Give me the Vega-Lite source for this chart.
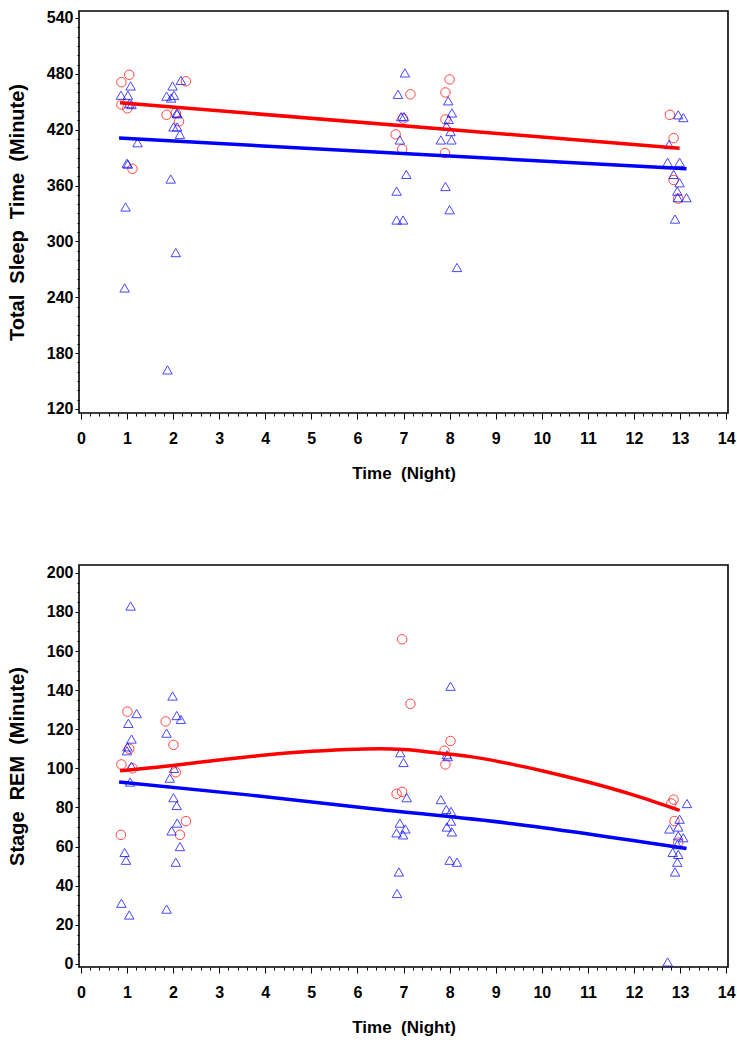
{
  "$schema": "https://vega.github.io/schema/vega-lite/v6.json",
  "padding": {"left": 6, "top": 9, "right": 8, "bottom": 8},
  "spacing": 82,
  "background": "white",
  "config": {
    "font": "Liberation Sans",
    "view": {"stroke": "#000000", "strokeWidth": 1.6},
    "axis": {
      "grid": false,
      "domain": false,
      "tickColor": "#000000",
      "tickWidth": 1,
      "labelColor": "#000000",
      "labelFont": "Liberation Sans",
      "labelFontWeight": "bold",
      "labelFontSize": 16,
      "titleColor": "#000000",
      "titleFont": "Liberation Sans",
      "titleFontWeight": "bold"
    }
  },
  "datasets": {
    "tst_pts": [
      {"night": 0.88, "minutes": 471, "group": "A"},
      {"night": 1.05, "minutes": 479, "group": "A"},
      {"night": 0.88, "minutes": 447, "group": "A"},
      {"night": 1.01, "minutes": 443, "group": "A"},
      {"night": 1.12, "minutes": 378, "group": "A"},
      {"night": 1.86, "minutes": 436, "group": "A"},
      {"night": 2.28, "minutes": 472, "group": "A"},
      {"night": 2.13, "minutes": 429, "group": "A"},
      {"night": 2.06, "minutes": 438, "group": "A"},
      {"night": 7.15, "minutes": 458, "group": "A"},
      {"night": 6.83, "minutes": 415, "group": "A"},
      {"night": 6.97, "minutes": 399, "group": "A"},
      {"night": 6.99, "minutes": 432, "group": "A"},
      {"night": 8.0, "minutes": 474, "group": "A"},
      {"night": 7.91, "minutes": 460, "group": "A"},
      {"night": 7.91, "minutes": 431, "group": "A"},
      {"night": 7.9, "minutes": 395, "group": "A"},
      {"night": 12.78, "minutes": 436, "group": "A"},
      {"night": 12.86, "minutes": 411, "group": "A"},
      {"night": 12.86, "minutes": 366, "group": "A"},
      {"night": 12.96, "minutes": 346, "group": "A"},
      {"night": 0.87, "minutes": 457, "group": "B"},
      {"night": 1.02, "minutes": 457, "group": "B"},
      {"night": 1.08, "minutes": 467, "group": "B"},
      {"night": 1.05, "minutes": 448, "group": "B"},
      {"night": 1.1, "minutes": 447, "group": "B"},
      {"night": 1.23, "minutes": 406, "group": "B"},
      {"night": 1.0, "minutes": 384, "group": "B"},
      {"night": 1.02, "minutes": 383, "group": "B"},
      {"night": 0.97, "minutes": 337, "group": "B"},
      {"night": 0.95, "minutes": 250, "group": "B"},
      {"night": 1.86, "minutes": 456, "group": "B"},
      {"night": 1.99, "minutes": 467, "group": "B"},
      {"night": 2.02, "minutes": 457, "group": "B"},
      {"night": 1.96, "minutes": 454, "group": "B"},
      {"night": 2.17, "minutes": 473, "group": "B"},
      {"night": 2.08, "minutes": 438, "group": "B"},
      {"night": 2.09, "minutes": 437, "group": "B"},
      {"night": 2.01, "minutes": 423, "group": "B"},
      {"night": 2.09, "minutes": 423, "group": "B"},
      {"night": 2.15, "minutes": 415, "group": "B"},
      {"night": 1.95, "minutes": 367, "group": "B"},
      {"night": 2.06, "minutes": 288, "group": "B"},
      {"night": 1.88, "minutes": 162, "group": "B"},
      {"night": 7.03, "minutes": 481, "group": "B"},
      {"night": 6.88, "minutes": 458, "group": "B"},
      {"night": 6.95, "minutes": 434, "group": "B"},
      {"night": 7.01, "minutes": 434, "group": "B"},
      {"night": 6.92, "minutes": 409, "group": "B"},
      {"night": 7.06, "minutes": 372, "group": "B"},
      {"night": 6.85, "minutes": 354, "group": "B"},
      {"night": 6.85, "minutes": 323, "group": "B"},
      {"night": 6.99, "minutes": 323, "group": "B"},
      {"night": 7.97, "minutes": 451, "group": "B"},
      {"night": 8.05, "minutes": 438, "group": "B"},
      {"night": 7.98, "minutes": 431, "group": "B"},
      {"night": 7.93, "minutes": 424, "group": "B"},
      {"night": 8.02, "minutes": 418, "group": "B"},
      {"night": 7.81, "minutes": 409, "group": "B"},
      {"night": 8.04, "minutes": 409, "group": "B"},
      {"night": 7.91, "minutes": 359, "group": "B"},
      {"night": 8.0, "minutes": 334, "group": "B"},
      {"night": 8.16, "minutes": 272, "group": "B"},
      {"night": 12.96, "minutes": 436, "group": "B"},
      {"night": 13.07, "minutes": 433, "group": "B"},
      {"night": 12.76, "minutes": 404, "group": "B"},
      {"night": 12.73, "minutes": 385, "group": "B"},
      {"night": 12.99, "minutes": 385, "group": "B"},
      {"night": 12.86, "minutes": 372, "group": "B"},
      {"night": 12.99, "minutes": 363, "group": "B"},
      {"night": 12.94, "minutes": 354, "group": "B"},
      {"night": 13.14, "minutes": 347, "group": "B"},
      {"night": 12.95, "minutes": 347, "group": "B"},
      {"night": 12.89, "minutes": 324, "group": "B"}
    ],
    "tst_fit": [
      {"night": 0.85, "minutes": 449, "group": "A"},
      {"night": 12.99, "minutes": 400, "group": "A"},
      {"night": 0.83, "minutes": 411, "group": "B"},
      {"night": 13.14, "minutes": 378, "group": "B"}
    ],
    "rem_pts": [
      {"night": 1.01, "minutes": 129, "group": "A"},
      {"night": 1.05, "minutes": 110, "group": "A"},
      {"night": 0.88, "minutes": 102, "group": "A"},
      {"night": 1.12, "minutes": 100, "group": "A"},
      {"night": 0.87, "minutes": 66, "group": "A"},
      {"night": 1.84, "minutes": 124, "group": "A"},
      {"night": 2.01, "minutes": 112, "group": "A"},
      {"night": 2.06, "minutes": 98, "group": "A"},
      {"night": 2.28, "minutes": 73, "group": "A"},
      {"night": 2.15, "minutes": 66, "group": "A"},
      {"night": 6.97, "minutes": 166, "group": "A"},
      {"night": 7.15, "minutes": 133, "group": "A"},
      {"night": 6.85, "minutes": 87, "group": "A"},
      {"night": 6.97, "minutes": 88, "group": "A"},
      {"night": 8.02, "minutes": 114, "group": "A"},
      {"night": 7.89, "minutes": 109, "group": "A"},
      {"night": 7.91, "minutes": 102, "group": "A"},
      {"night": 12.86, "minutes": 84, "group": "A"},
      {"night": 12.81, "minutes": 82, "group": "A"},
      {"night": 12.88, "minutes": 73, "group": "A"},
      {"night": 12.96, "minutes": 62, "group": "A"},
      {"night": 1.08, "minutes": 183, "group": "B"},
      {"night": 1.21, "minutes": 128, "group": "B"},
      {"night": 1.03, "minutes": 123, "group": "B"},
      {"night": 1.1, "minutes": 115, "group": "B"},
      {"night": 1.01, "minutes": 111, "group": "B"},
      {"night": 1.0, "minutes": 109, "group": "B"},
      {"night": 1.1, "minutes": 101, "group": "B"},
      {"night": 1.07, "minutes": 93, "group": "B"},
      {"night": 0.95, "minutes": 57, "group": "B"},
      {"night": 0.98, "minutes": 53, "group": "B"},
      {"night": 0.88, "minutes": 31, "group": "B"},
      {"night": 1.05, "minutes": 25, "group": "B"},
      {"night": 1.99, "minutes": 137, "group": "B"},
      {"night": 2.08, "minutes": 127, "group": "B"},
      {"night": 2.17, "minutes": 125, "group": "B"},
      {"night": 1.86, "minutes": 118, "group": "B"},
      {"night": 2.02, "minutes": 100, "group": "B"},
      {"night": 1.93, "minutes": 95, "group": "B"},
      {"night": 2.01, "minutes": 85, "group": "B"},
      {"night": 2.08, "minutes": 81, "group": "B"},
      {"night": 2.09, "minutes": 72, "group": "B"},
      {"night": 1.97, "minutes": 68, "group": "B"},
      {"night": 2.15, "minutes": 60, "group": "B"},
      {"night": 2.06, "minutes": 52, "group": "B"},
      {"night": 1.86, "minutes": 28, "group": "B"},
      {"night": 6.93, "minutes": 108, "group": "B"},
      {"night": 7.0, "minutes": 103, "group": "B"},
      {"night": 7.07, "minutes": 85, "group": "B"},
      {"night": 6.92, "minutes": 72, "group": "B"},
      {"night": 7.04, "minutes": 69, "group": "B"},
      {"night": 6.85, "minutes": 67, "group": "B"},
      {"night": 6.99, "minutes": 66, "group": "B"},
      {"night": 6.9, "minutes": 47, "group": "B"},
      {"night": 6.86, "minutes": 36, "group": "B"},
      {"night": 8.02, "minutes": 142, "group": "B"},
      {"night": 7.94, "minutes": 107, "group": "B"},
      {"night": 7.96, "minutes": 106, "group": "B"},
      {"night": 7.81, "minutes": 84, "group": "B"},
      {"night": 7.93, "minutes": 79, "group": "B"},
      {"night": 8.03, "minutes": 78, "group": "B"},
      {"night": 8.03, "minutes": 73, "group": "B"},
      {"night": 7.94, "minutes": 70, "group": "B"},
      {"night": 8.05, "minutes": 67.5, "group": "B"},
      {"night": 8.0, "minutes": 53, "group": "B"},
      {"night": 8.16, "minutes": 52, "group": "B"},
      {"night": 13.15, "minutes": 82, "group": "B"},
      {"night": 12.99, "minutes": 74, "group": "B"},
      {"night": 12.77, "minutes": 69, "group": "B"},
      {"night": 12.96, "minutes": 70, "group": "B"},
      {"night": 12.96, "minutes": 65.5, "group": "B"},
      {"night": 13.07, "minutes": 64.5, "group": "B"},
      {"night": 12.94, "minutes": 61, "group": "B"},
      {"night": 12.84, "minutes": 57, "group": "B"},
      {"night": 12.96, "minutes": 56, "group": "B"},
      {"night": 12.94, "minutes": 52, "group": "B"},
      {"night": 12.89, "minutes": 47, "group": "B"},
      {"night": 12.73, "minutes": 1, "group": "B"}
    ],
    "rem_fit": [
      {"night": 0.85, "minutes": 98.8, "group": "A"},
      {"night": 2, "minutes": 101.5, "group": "A"},
      {"night": 3, "minutes": 104.3, "group": "A"},
      {"night": 4, "minutes": 106.8, "group": "A"},
      {"night": 5, "minutes": 108.7, "group": "A"},
      {"night": 6, "minutes": 109.8, "group": "A"},
      {"night": 6.5, "minutes": 110, "group": "A"},
      {"night": 7, "minutes": 109.6, "group": "A"},
      {"night": 7.73, "minutes": 107.9, "group": "A"},
      {"night": 8.45, "minutes": 106, "group": "A"},
      {"night": 9.32, "minutes": 102.3, "group": "A"},
      {"night": 10, "minutes": 98.8, "group": "A"},
      {"night": 11, "minutes": 93, "group": "A"},
      {"night": 12, "minutes": 86.3, "group": "A"},
      {"night": 12.99, "minutes": 78.5, "group": "A"},
      {"night": 0.83, "minutes": 93, "group": "B"},
      {"night": 3.68, "minutes": 86.3, "group": "B"},
      {"night": 6.28, "minutes": 79.5, "group": "B"},
      {"night": 9.32, "minutes": 71.8, "group": "B"},
      {"night": 13.14, "minutes": 59, "group": "B"}
    ]
  },
  "vconcat": [
    {
      "width": 649,
      "height": 402,
      "resolve": {"axis": {"x": "independent", "y": "independent"}},
      "layer": [
        {
          "data": {"name": "tst_pts"},
          "mark": {"type": "point", "filled": false, "strokeWidth": 1, "size": 90, "opacity": 0.72},
          "encoding": {
            "x": {"field": "night", "type": "quantitative",
              "scale": {"domain": [-0.04, 14.04], "nice": false, "zero": false},
              "axis": {"orient": "bottom", "values": [0,1,2,3,4,5,6,7,8,9,10,11,12,13,14], "tickSize": 6, "labelPadding": 11, "title": "Time\u00a0 (Night)", "titleFontSize": 17, "titlePadding": 19}},
            "y": {"field": "minutes", "type": "quantitative",
              "scale": {"domain": [115.7, 547.5], "nice": false, "zero": false},
              "axis": {"orient": "left", "values": [120,180,240,300,360,420,480,540], "tickSize": 4, "labelPadding": 2, "title": "Total\u00a0 Sleep\u00a0 Time\u00a0 (Minute)", "titleFontSize": 20, "titlePadding": 19}},
            "shape": {"field": "group", "type": "nominal", "scale": {"domain": ["A", "B"], "range": ["circle", "triangle-up"]}, "legend": null},
            "color": {"field": "group", "type": "nominal", "scale": {"domain": ["A", "B"], "range": ["#ff0000", "#0000ff"]}, "legend": null}
          }
        },
        {
          "data": {"name": "tst_fit"},
          "mark": {"type": "line", "strokeWidth": 3.5},
          "encoding": {
            "x": {"field": "night", "type": "quantitative",
              "axis": {"orient": "bottom", "values": [0.2,0.4,0.6,0.8,1.2,1.4,1.6,1.8,2.2,2.4,2.6,2.8,3.2,3.4,3.6,3.8,4.2,4.4,4.6,4.8,5.2,5.4,5.6,5.8,6.2,6.4,6.6,6.8,7.2,7.4,7.6,7.8,8.2,8.4,8.6,8.8,9.2,9.4,9.6,9.8,10.2,10.4,10.6,10.8,11.2,11.4,11.6,11.8,12.2,12.4,12.6,12.8,13.2,13.4,13.6,13.8], "tickSize": 3, "labels": false, "title": null}},
            "y": {"field": "minutes", "type": "quantitative",
              "axis": {"orient": "left", "values": [130,140,150,160,170,190,200,210,220,230,250,260,270,280,290,310,320,330,340,350,370,380,390,400,410,430,440,450,460,470,490,500,510,520,530], "tickSize": 2, "labels": false, "title": null}},
            "color": {"field": "group", "type": "nominal", "legend": null},
            "detail": {"field": "group"}
          }
        }
      ]
    },
    {
      "width": 649,
      "height": 402,
      "resolve": {"axis": {"x": "independent", "y": "independent"}},
      "layer": [
        {
          "data": {"name": "rem_pts"},
          "mark": {"type": "point", "filled": false, "strokeWidth": 1, "size": 90, "opacity": 0.72},
          "encoding": {
            "x": {"field": "night", "type": "quantitative",
              "scale": {"domain": [-0.04, 14.04], "nice": false, "zero": false},
              "axis": {"orient": "bottom", "values": [0,1,2,3,4,5,6,7,8,9,10,11,12,13,14], "tickSize": 6, "labelPadding": 11, "title": "Time\u00a0 (Night)", "titleFontSize": 17, "titlePadding": 19}},
            "y": {"field": "minutes", "type": "quantitative",
              "scale": {"domain": [-1.6, 204], "nice": false, "zero": false},
              "axis": {"orient": "left", "values": [0,20,40,60,80,100,120,140,160,180,200], "tickSize": 4, "labelPadding": 2, "title": "Stage\u00a0 REM\u00a0 (Minute)", "titleFontSize": 20, "titlePadding": 19}},
            "shape": {"field": "group", "type": "nominal", "scale": {"domain": ["A", "B"], "range": ["circle", "triangle-up"]}, "legend": null},
            "color": {"field": "group", "type": "nominal", "scale": {"domain": ["A", "B"], "range": ["#ff0000", "#0000ff"]}, "legend": null}
          }
        },
        {
          "data": {"name": "rem_fit"},
          "mark": {"type": "line", "strokeWidth": 3.5, "interpolate": "monotone"},
          "encoding": {
            "x": {"field": "night", "type": "quantitative",
              "axis": {"orient": "bottom", "values": [0.2,0.4,0.6,0.8,1.2,1.4,1.6,1.8,2.2,2.4,2.6,2.8,3.2,3.4,3.6,3.8,4.2,4.4,4.6,4.8,5.2,5.4,5.6,5.8,6.2,6.4,6.6,6.8,7.2,7.4,7.6,7.8,8.2,8.4,8.6,8.8,9.2,9.4,9.6,9.8,10.2,10.4,10.6,10.8,11.2,11.4,11.6,11.8,12.2,12.4,12.6,12.8,13.2,13.4,13.6,13.8], "tickSize": 3, "labels": false, "title": null}},
            "y": {"field": "minutes", "type": "quantitative",
              "axis": {"orient": "left", "values": [5,10,15,25,30,35,45,50,55,65,70,75,85,90,95,105,110,115,125,130,135,145,150,155,165,170,175,185,190,195], "tickSize": 2, "labels": false, "title": null}},
            "color": {"field": "group", "type": "nominal", "legend": null},
            "detail": {"field": "group"}
          }
        }
      ]
    }
  ]
}
